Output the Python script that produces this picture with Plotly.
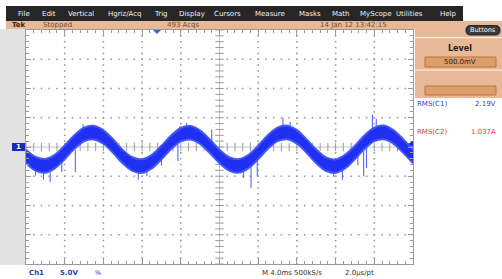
import numpy as np
import plotly.graph_objects as go

W, H = 502, 279

# ---------------- data ----------------
# time axis: 4.0 ms/div, 10 divisions ; Ch1: 5.0 V/div, 8 divisions
time_ms = list(range(-20, 21))
band_upper = [-0.45, -1.70, -2.05, -1.30, 0.25, 2.00, 3.30, 3.62, 2.85, 1.32,
              -0.50, -1.75, -2.10, -1.35, 0.20, 1.95, 3.25, 3.58, 2.80, 1.28,
              -0.46, -1.72, -2.08, -1.33, 0.22, 2.02, 3.32, 3.65, 2.88, 1.30,
              -0.44, -1.76, -2.12, -1.30, 0.24, 2.00, 3.30, 3.66, 2.86, 1.31,
              -0.48]
band_lower = [-2.78, -4.05, -4.40, -3.62, -2.08, -0.32, 0.98, 1.30, 0.55, -1.00,
              -2.80, -4.08, -4.42, -3.65, -2.10, -0.35, 0.95, 1.28, 0.52, -1.04,
              -2.76, -4.04, -4.38, -3.60, -2.06, -0.30, 1.00, 1.33, 0.57, -0.98,
              -2.78, -4.06, -4.41, -3.64, -2.07, -0.31, 0.99, 1.31, 0.54, -1.01,
              -2.79]
spike_t    = [-19.0, -18.2, -17.5, -16.3, -14.9, -14.1, -8.4, -7.5, -6.0, -4.3,
              -4.1, -3.4, -0.8, 2.5, 3.26, 3.9, 6.56, 7.3, 11.8, 12.7,
              14.3, 14.9, 15.2, 15.8, 16.2]
spike_base = [-3.2, -3.0, -2.9, -1.5, -0.5, 2.0, -3.0, -2.6, -1.0, 1.9,
              2.2, 2.3, 0.8, -3.2, -3.0, -1.2, 2.4, 2.4, -3.0, -3.2,
              -1.0, -0.2, 0.5, 1.5, 2.0]
spike_tip  = [-4.9, -5.6, -6.0, -4.3, -4.3, 3.9, -5.6, -5.0, -3.2, -2.4,
              3.6, 4.1, 3.0, -5.3, -7.0, -5.0, 5.0, 4.3, -5.1, -5.6,
              -3.1, -5.0, -3.6, 5.5, 4.8]

menu_items = ["File", "Edit", "Vertical", "Hgriz/Acq", "Trig", "Display", "Cursors",
              "Measure", "Masks", "Math", "MyScope", "Utilities", "Help"]
menu_x_px = [16, 40, 66, 106, 152, 177, 212, 253, 297, 330, 358, 394, 438]
rms_labels = ["RMS(C1)", "RMS(C2)"]
rms_values = ["2.19V", "1.037A"]
rms_colors = ["#2f3fd0", "#e03a3a"]

# ---------------- helpers ----------------
def X(px):
    return px / W

def Y(py):
    return 1 - py / H

GX0, GX1, GY0, GY1 = 26, 413, 30, 264
WAVE = "#1f30f2"
FRINGE = "#4456fa"
GRID = "#9a9a9a"
TAN = "#e8b996"
BOX = "#dc9d69"

fig = go.Figure()

# graticule dots
xs_minor = np.round(np.arange(-20, 20.001, 0.8), 3)
ys_minor = np.round(np.arange(-20, 20.001, 1.0), 3)
dx, dy = [], []
for yv in (-15, -10, -5, 5, 10, 15):
    for xv in xs_minor:
        dx.append(xv); dy.append(yv)
for xv in (-16, -12, -8, -4, 4, 8, 12, 16):
    for yv in ys_minor:
        dx.append(xv); dy.append(yv)
fig.add_trace(go.Scatter(x=dx, y=dy, mode="markers",
                         marker=dict(symbol="square", size=1.6, color=GRID),
                         hoverinfo="skip", showlegend=False))
# center cross lines
fig.add_trace(go.Scatter(x=[-20, 20, None, 0, 0], y=[0, 0, None, -20, 20], mode="lines",
                         line=dict(color="#c4c4c4", width=1), hoverinfo="skip", showlegend=False))
fig.add_trace(go.Scatter(x=xs_minor, y=[0] * len(xs_minor), mode="markers",
                         marker=dict(symbol="line-ns", size=6, line=dict(color=GRID, width=1)),
                         hoverinfo="skip", showlegend=False))
fig.add_trace(go.Scatter(x=[0] * len(ys_minor), y=ys_minor, mode="markers",
                         marker=dict(symbol="line-ew", size=6, line=dict(color=GRID, width=1)),
                         hoverinfo="skip", showlegend=False))

# spikes (drawn under the band)
sx, sy = [], []
for t, b, p in zip(spike_t, spike_base, spike_tip):
    sx += [t, t, None]
    sy += [b, p, None]
fig.add_trace(go.Scatter(x=sx, y=sy, mode="lines", line=dict(color="#4a58ff", width=1),
                         hoverinfo="skip", showlegend=False))
# waveform band
fig.add_trace(go.Scatter(x=time_ms, y=band_lower, mode="lines",
                         line=dict(color=FRINGE, width=2, shape="spline"),
                         hoverinfo="skip", showlegend=False))
fig.add_trace(go.Scatter(x=time_ms, y=band_upper, mode="lines", fill="tonexty",
                         fillcolor=WAVE, line=dict(color=FRINGE, width=2, shape="spline"),
                         hoverinfo="skip", showlegend=False))

axis_common = dict(showline=True, linecolor=GRID, linewidth=1, mirror="ticks",
                   ticks="inside", ticklen=5, tickcolor=GRID, showticklabels=False,
                   showgrid=False, zeroline=False, fixedrange=True)
fig.update_xaxes(range=[-20, 20], dtick=4, domain=[X(GX0), X(GX1)],
                 minor=dict(ticks="inside", ticklen=3, dtick=0.8, tickcolor=GRID, showgrid=False),
                 **axis_common)
fig.update_yaxes(range=[-20, 20], dtick=5, domain=[Y(GY1), Y(GY0)],
                 minor=dict(ticks="inside", ticklen=3, dtick=1, tickcolor=GRID, showgrid=False),
                 **axis_common)

shapes = []
def rect(x0, y0, x1, y1, fill, line=None, layer="below"):
    shapes.append(dict(type="rect", xref="paper", yref="paper",
                       x0=X(x0), x1=X(x1), y0=Y(y1), y1=Y(y0),
                       fillcolor=fill, line=dict(width=1 if line else 0, color=line or fill),
                       layer=layer))

rect(6, 6, 463, 21, "#262626")          # menu bar
rect(6, 21, 502, 29, TAN)               # status bar
rect(0, 29, 25, 265, "#e2e2e2")         # left strip
rect(415, 29, 502, 98, TAN)             # right panel
rect(415, 37, 502, 38.3, "#fbe9dc")     # separator
rect(415, 69.5, 502, 70.8, "#fbe9dc")   # separator
rect(425, 57, 496, 67, BOX, "#b9773f")
rect(425, 86, 496, 95, BOX, "#b9773f")
rect(12, 143, 25, 151, "#1b2bb8", layer="above")   # ch1 marker
# Buttons pill
x0, x1, y0, y1, r = 466, 500, 25.5, 35, 4.5
path = (f"M {X(x0 + r)},{Y(y0)} L {X(x1 - r)},{Y(y0)} Q {X(x1)},{Y(y0)} {X(x1)},{Y(y0 + r)} "
        f"L {X(x1)},{Y(y1 - r)} Q {X(x1)},{Y(y1)} {X(x1 - r)},{Y(y1)} L {X(x0 + r)},{Y(y1)} "
        f"Q {X(x0)},{Y(y1)} {X(x0)},{Y(y1 - r)} L {X(x0)},{Y(y0 + r)} Q {X(x0)},{Y(y0)} {X(x0 + r)},{Y(y0)} Z")
shapes.append(dict(type="path", xref="paper", yref="paper", path=path,
                   fillcolor="#3a3a3a", line=dict(color="#222", width=1), layer="above"))
# trigger position marker (top)
tx, ty = 157, 30
shapes.append(dict(type="path", xref="paper", yref="paper",
                   path=f"M {X(tx - 4)},{Y(ty)} L {X(tx + 4)},{Y(ty)} L {X(tx)},{Y(ty + 4)} Z",
                   fillcolor="#2a6ae0", line=dict(width=0), layer="above"))
# trigger level marker (right)
lx, ly = 413, 144
shapes.append(dict(type="path", xref="paper", yref="paper",
                   path=f"M {X(lx)},{Y(ly - 3)} L {X(lx)},{Y(ly + 3)} L {X(lx - 5)},{Y(ly)} Z",
                   fillcolor="#1b2bb8", line=dict(width=0), layer="above"))
fig.update_layout(shapes=shapes)

ann = []
def text(x, y, s, size=7.5, color="#222", anchor="left", bold=False, family="DejaVu Sans"):
    if bold:
        s = f"<b>{s}</b>"
    ann.append(dict(x=X(x), y=Y(y), xref="paper", yref="paper", text=s, showarrow=False,
                    xanchor=anchor, yanchor="middle",
                    font=dict(size=size, color=color, family=family)))

for name, px in zip(menu_items, menu_x_px):
    text(px, 14, name, size=7, color="#f2f2f2")
text(10, 25.3, "Tek", size=7, color="#3a2418", bold=True)
text(41, 25.3, "Stopped", size=7, color="#6e4a35")
text(165, 25.3, "493 Acqs", size=7, color="#6e4a35")
text(318, 25.3, "14 Jan 12 13:42:15", size=7, color="#6e4a35")
text(483, 30.3, "Buttons", size=6.5, color="#ffffff", anchor="center")
text(460, 48, "Level", size=8, color="#2a1a10", anchor="center", bold=True)
text(460, 62, "500.0mV", size=7, color="#2a1a10", anchor="center")
for i, (lab, val, col) in enumerate(zip(rms_labels, rms_values, rms_colors)):
    yy = 104 + i * 27.5
    text(415, yy, lab, size=7, color=col)
    text(498, yy, val, size=7, color=col, anchor="right")
text(18.5, 147, "1", size=7, color="#ffffff", anchor="center", bold=True)
text(27, 273, "Ch1", size=7, color="#2a3ab8", bold=True)
text(58, 273, "5.0V", size=7, color="#2a3ab8", bold=True)
text(93, 273, "%", size=6.5, color="#2a3ab8")
text(260, 273, "M 4.0ms 500kS/s", size=7, color="#333333")
text(343, 273, "2.0µs/pt", size=7, color="#333333")
fig.update_layout(annotations=ann)

fig.update_layout(width=W, height=H, margin=dict(l=0, r=0, t=0, b=0),
                  paper_bgcolor="white", plot_bgcolor="white", showlegend=False)
fig.write_html("out.html", config={"displayModeBar": False, "staticPlot": True},
               post_script="document.body.style.margin='0';document.body.style.overflow='hidden';")
